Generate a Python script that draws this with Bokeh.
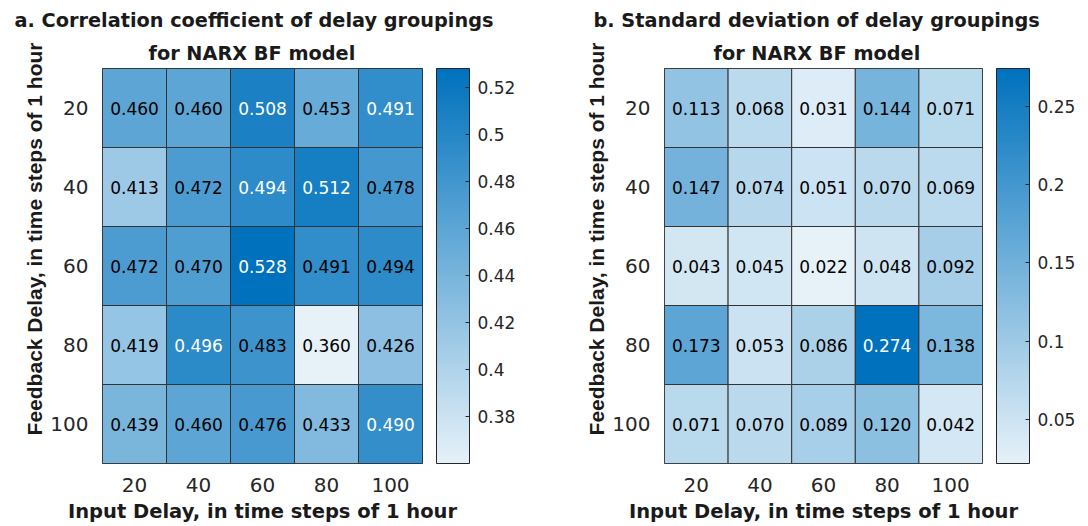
import numpy as np
from bokeh.plotting import figure
from bokeh.models import (ColumnDataSource, LinearColorMapper, ColorBar, FixedTicker,
                          Title, FactorRange)
from bokeh.layouts import row
from bokeh.embed import file_html
from bokeh.resources import INLINE
from bokeh.core.properties import value

# ---------------- data ----------------
input_delays = ["20", "40", "60", "80", "100"]
feedback_delays = ["20", "40", "60", "80", "100"]

corr_values = [
    [0.460, 0.460, 0.508, 0.453, 0.491],
    [0.413, 0.472, 0.494, 0.512, 0.478],
    [0.472, 0.470, 0.528, 0.491, 0.494],
    [0.419, 0.496, 0.483, 0.360, 0.426],
    [0.439, 0.460, 0.476, 0.433, 0.490],
]
std_values = [
    [0.113, 0.068, 0.031, 0.144, 0.071],
    [0.147, 0.074, 0.051, 0.070, 0.069],
    [0.043, 0.045, 0.022, 0.048, 0.092],
    [0.173, 0.053, 0.086, 0.274, 0.138],
    [0.071, 0.070, 0.089, 0.120, 0.042],
]
corr_ticks = [0.38, 0.40, 0.42, 0.44, 0.46, 0.48, 0.50, 0.52]
corr_tick_labels = ["0.38", "0.4", "0.42", "0.44", "0.46", "0.48", "0.5", "0.52"]
std_ticks = [0.05, 0.10, 0.15, 0.20, 0.25]
std_tick_labels = ["0.05", "0.1", "0.15", "0.2", "0.25"]

title_a = ["a. Correlation coefficient of delay groupings", "for NARX BF model"]
title_b = ["b. Standard deviation of delay groupings", "for NARX BF model"]
xlabel = "Input Delay, in time steps of 1 hour"
ylabel = "Feedback Delay, in time steps of 1 hour"

# ---------------- style ----------------
FONT = "DejaVu Sans"
TXT = "#262626"
lo = np.array([0.900, 0.945, 0.974])
hi = np.array([0.000, 0.447, 0.741])
palette = []
for t in np.linspace(0, 1, 256):
    c = (lo + (hi - lo) * t) * 255
    palette.append("#%02x%02x%02x" % tuple(int(round(v)) for v in c))

# label colour per cell as seen in the picture (1 = white text)
corr_white = [
    [0, 0, 1, 0, 1],
    [0, 0, 1, 1, 0],
    [0, 0, 1, 0, 0],
    [0, 1, 0, 0, 0],
    [0, 0, 0, 0, 1],
]
std_white = [
    [0, 0, 0, 0, 0],
    [0, 0, 0, 0, 0],
    [0, 0, 0, 0, 0],
    [0, 0, 0, 1, 0],
    [0, 0, 0, 0, 0],
]


def heat(values, white, ticks, tick_labels, titles, width, left, right, toffs):
    vals = np.array(values)
    xs, ys, vs, ts, tc = [], [], [], [], []
    for i, fd in enumerate(feedback_delays):
        for j, idl in enumerate(input_delays):
            v = vals[i, j]
            xs.append(idl)
            ys.append(fd)
            vs.append(v)
            ts.append("%.3f" % v)
            tc.append("white" if white[i][j] else "black")
    src = ColumnDataSource(dict(x=xs, y=ys, v=vs, t=ts, c=tc))
    mapper = LinearColorMapper(palette=palette, low=vals.min(), high=vals.max())

    p = figure(width=width, height=525,
               x_range=FactorRange(*input_delays),
               y_range=FactorRange(*list(reversed(feedback_delays))),
               output_backend="svg", toolbar_location=None, title=None,
               min_border_left=left, min_border_right=right,
               min_border_top=68, min_border_bottom=62)
    p.rect(x="x", y="y", width=1, height=1, source=src,
           fill_color={"field": "v", "transform": mapper},
           line_color="#333333", line_width=1)
    p.text(x="x", y="y", text="t", source=src, text_align="center",
           text_baseline="middle", text_color="c",
           text_font=value(FONT), text_font_size="17px")

    p.outline_line_color = "#262626"
    p.grid.visible = False
    p.axis.axis_line_color = None
    p.axis.major_tick_line_color = None
    p.axis.minor_tick_line_color = None
    p.axis.major_label_text_font = FONT
    p.axis.major_label_text_font_size = "20px"
    p.axis.major_label_text_color = TXT
    p.axis.major_label_standoff = 8
    p.xaxis.axis_label = xlabel
    p.xaxis.axis_label_text_font = FONT
    p.xaxis.axis_label_text_font_size = "19.5px"
    p.xaxis.axis_label_text_font_style = "bold"
    p.xaxis.axis_label_text_color = "#1a1a1a"
    p.xaxis.axis_label_standoff = 5

    cb = ColorBar(color_mapper=mapper, ticker=FixedTicker(ticks=ticks),
                  major_label_overrides={t: l for t, l in zip(ticks, tick_labels)},
                  width=33, height=395, margin=0, padding=0,
                  location=(14, 0),
                  bar_line_color="#262626", bar_line_width=1,
                  major_tick_in=4, major_tick_out=0,
                  major_tick_line_color="#262626",
                  minor_tick_line_color=None,
                  major_label_text_font=FONT, major_label_text_font_size="17px",
                  major_label_text_color=TXT, label_standoff=8,
                  border_line_color=None, background_fill_color=None)
    p.add_layout(cb, "right")

    p.add_layout(Title(text=ylabel, align="right", text_font="Liberation Sans",
                       text_font_size="21px", text_font_style="bold",
                       text_color="#1a1a1a", standoff=3, offset=-26), "left")

    p.add_layout(Title(text=titles[1], align="left", text_font=FONT,
                       text_font_size="19.3px", text_font_style="bold",
                       text_color="#1a1a1a", standoff=7, offset=toffs[1]), "above")
    p.add_layout(Title(text=titles[0], align="left", text_font=FONT,
                       text_font_size="19.3px", text_font_style="bold",
                       text_color="#1a1a1a", standoff=9, offset=toffs[0]), "above")
    return p


pa = heat(corr_values, corr_white, corr_ticks, corr_tick_labels, title_a,
          556, 102, 134, (-88, 46))
pb = heat(std_values, std_white, std_ticks, std_tick_labels, title_b,
          532, 108, 106, (-71, 49))

layout = row(pa, pb)
open("out.html", "w").write(file_html(layout, INLINE))
